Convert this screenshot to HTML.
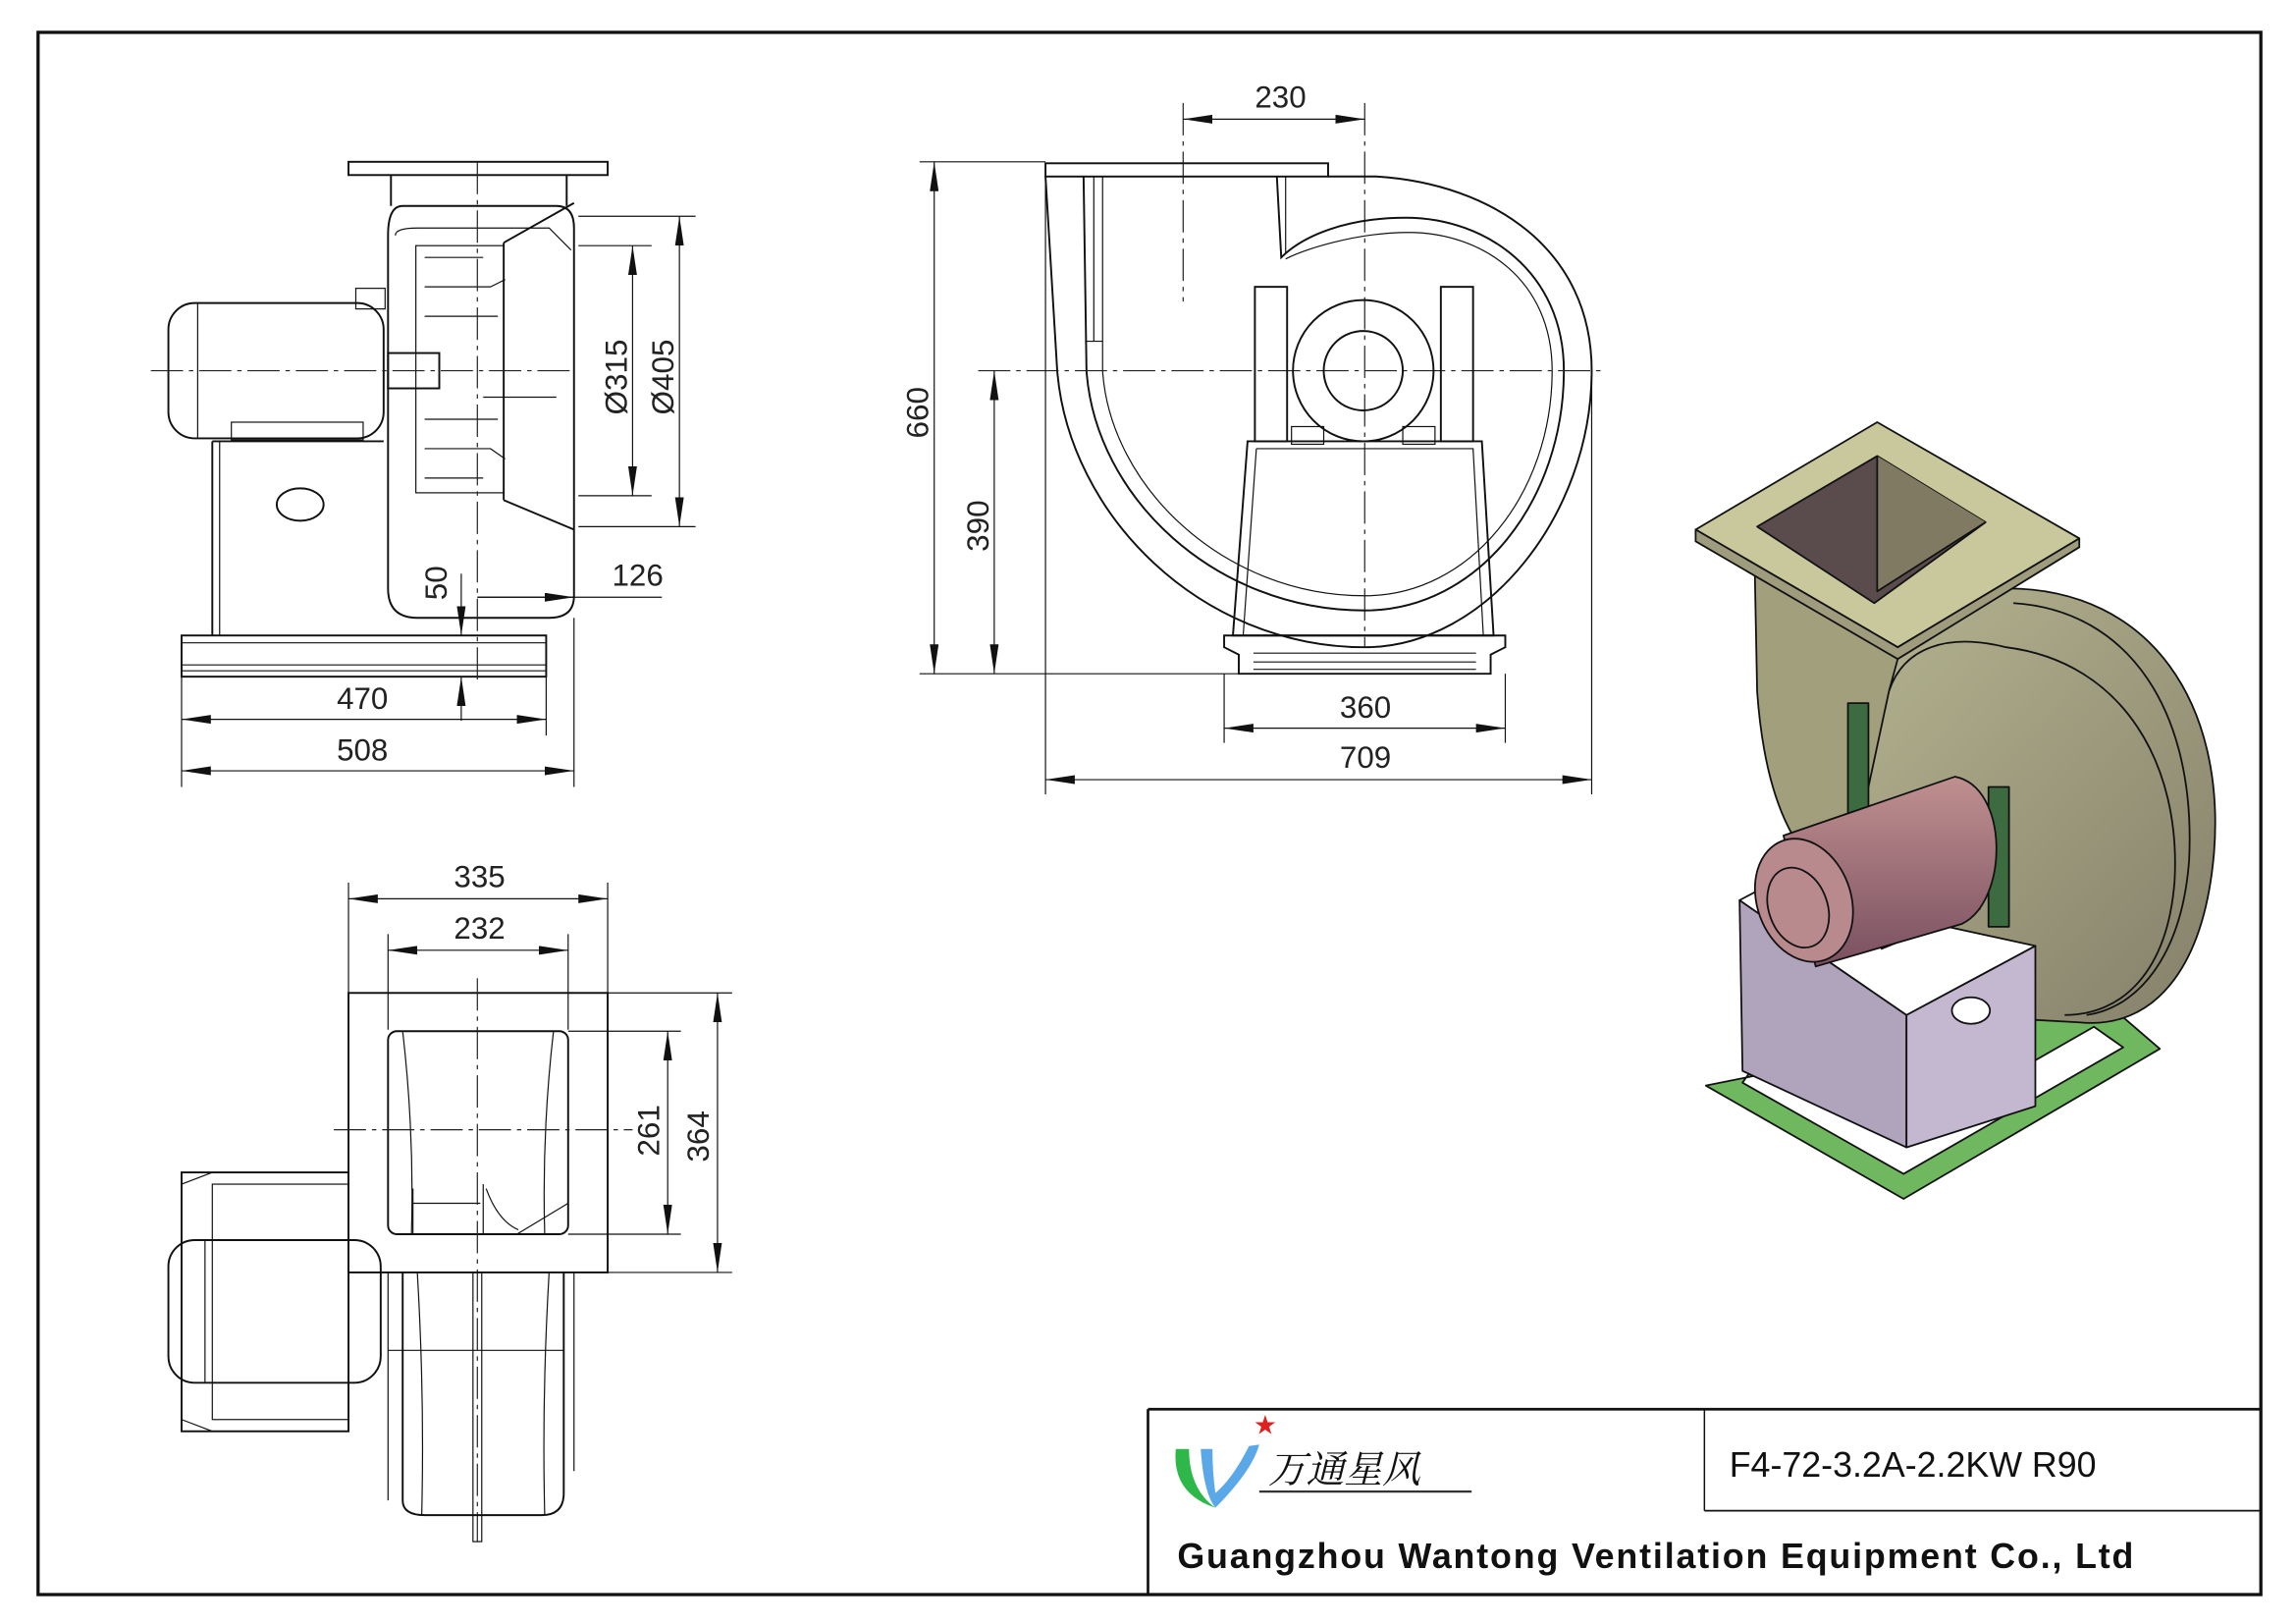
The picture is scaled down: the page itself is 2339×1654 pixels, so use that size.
<!DOCTYPE html>
<html><head><meta charset="utf-8"><style>
html,body{margin:0;padding:0;background:#fff;width:2339px;height:1654px;overflow:hidden}
svg{display:block}
.l{fill:none;stroke:#111;stroke-width:1.3}
.t{fill:none;stroke:#111;stroke-width:0.8}
.c{fill:none;stroke:#222;stroke-width:0.8;stroke-dasharray:22 4 3 4}
.d{font-family:"Liberation Sans",sans-serif;font-size:21px;fill:#222}
</style></head><body>
<svg width="2339" height="1654" viewBox="0 0 1568 1104" preserveAspectRatio="none">
<defs>
<marker id="a" viewBox="0 0 20 6" refX="20" refY="3" markerWidth="20" markerHeight="6" orient="auto-start-reverse" markerUnits="userSpaceOnUse"><path d="M0,0L20,3L0,6z" fill="#111"/></marker>
<linearGradient id="ol" x1="0" y1="0" x2="1" y2="1"><stop offset="0" stop-color="#b7b792"/><stop offset="1" stop-color="#85806a"/></linearGradient>
<linearGradient id="pk" x1="0" y1="0" x2="0" y2="1"><stop offset="0" stop-color="#c09090"/><stop offset="1" stop-color="#7a5060"/></linearGradient>
</defs>
<rect x="26" y="22" width="1518" height="1062" fill="none" stroke="#111" stroke-width="2.2"/>

<!-- SIDE VIEW -->
<g>
<rect x="238" y="110" width="177" height="9" class="l"/>
<line x1="267" y1="119" x2="267" y2="140" class="l"/><line x1="387" y1="119" x2="387" y2="140" class="l"/>
<path d="M275,140 H380 Q392,140 392,155 V405 Q392,420 375,420 H285 Q265,420 265,400 V160 Q265,140 275,140Z" class="l"/>
<path d="M270,160 Q270,155 285,155 H375 L390,170" class="t"/>
<rect x="284" y="167" width="60" height="168" class="t"/>
<path d="M290,175 H330 M290,195 H335 L345,190 M290,215 H340 M290,285 H340 M290,305 H335 L345,312 M290,325 H330" class="t"/>
<path d="M344,165 L392,138 M344,340 L392,360 M344,165 V340" class="l"/>
<line x1="330" y1="270" x2="380" y2="270" class="t"/>
<rect x="115" y="206" width="147" height="92" rx="18" class="l"/>
<line x1="135" y1="206" x2="135" y2="298" class="t"/>
<rect x="158" y="287" width="90" height="12" class="t"/>
<rect x="243" y="196" width="20" height="14" class="t"/>
<rect x="265" y="240" width="35" height="24" class="l"/>
<line x1="145" y1="300" x2="145" y2="432" class="l"/><line x1="150" y1="300" x2="150" y2="432" class="t"/>
<line x1="145" y1="300" x2="262" y2="300" class="l"/>
<ellipse cx="205" cy="343" rx="16" ry="11" class="l"/>
<rect x="124" y="432" width="249" height="28" class="l"/>
<line x1="124" y1="437" x2="373" y2="437" class="t"/><line x1="124" y1="452" x2="373" y2="452" class="t"/><line x1="124" y1="456" x2="373" y2="456" class="t"/>
<line x1="103" y1="252" x2="390" y2="252" class="c"/>
<line x1="326" y1="110" x2="326" y2="462" class="c"/>
<line x1="395" y1="147" x2="475" y2="147" class="t"/><line x1="395" y1="358" x2="475" y2="358" class="t"/>
<line x1="464" y1="147" x2="464" y2="358" class="t" marker-start="url(#a)" marker-end="url(#a)"/>
<line x1="395" y1="167" x2="445" y2="167" class="t"/><line x1="395" y1="337" x2="445" y2="337" class="t"/>
<line x1="432" y1="167" x2="432" y2="337" class="t" marker-start="url(#a)" marker-end="url(#a)"/>
<text class="d" transform="translate(428,282) rotate(-90)">Ø315</text>
<text class="d" transform="translate(460,282) rotate(-90)">Ø405</text>
<line x1="326" y1="406" x2="452" y2="406" class="t"/>
<line x1="326" y1="406" x2="392" y2="406" class="t" marker-end="url(#a)"/>
<text class="d" x="418" y="398">126</text>
<line x1="315" y1="390" x2="315" y2="432" class="t" marker-end="url(#a)"/>
<line x1="315" y1="490" x2="315" y2="460" class="t" marker-end="url(#a)"/>
<text class="d" transform="translate(305,408) rotate(-90)">50</text>
<line x1="124" y1="460" x2="124" y2="535" class="t"/><line x1="373" y1="460" x2="373" y2="500" class="t"/><line x1="392" y1="420" x2="392" y2="535" class="t"/>
<line x1="124" y1="489" x2="373" y2="489" class="t" marker-start="url(#a)" marker-end="url(#a)"/>
<text class="d" x="230" y="482">470</text>
<line x1="124" y1="524" x2="392" y2="524" class="t" marker-start="url(#a)" marker-end="url(#a)"/>
<text class="d" x="230" y="517">508</text>
</g>

<!-- FRONT VIEW -->
<g>
<line x1="808" y1="70" x2="808" y2="205" class="c"/><line x1="932" y1="70" x2="932" y2="440" class="c"/>
<line x1="808" y1="81" x2="932" y2="81" class="t" marker-start="url(#a)" marker-end="url(#a)"/>
<text class="d" x="857" y="73">230</text>
<rect x="714" y="111" width="193" height="9" class="l"/>
<path d="M714,120 L722,252 C730,350 820,440 932,440 C1015,440 1087,350 1087,252 C1087,170 1020,125 940,120 L907,120" class="l"/>
<path d="M740,120 L742,252 C748,338 830,415 932,415 C1010,415 1068,340 1068,252 C1068,185 1015,148 960,148 C920,148 890,160 875,175 L872,120" class="l"/>
<path d="M747,120 V232 M741,232 H753 M753,120 V252 C758,330 835,405 932,405 C1005,405 1060,335 1060,252 C1060,190 1012,158 962,158 C925,158 890,170 878,176" class="t"/>
<line x1="878" y1="120" x2="878" y2="172" class="t"/>
<line x1="668" y1="252" x2="1097" y2="252" class="c"/>
<rect x="857" y="195" width="22" height="105" class="l"/><rect x="984" y="195" width="22" height="105" class="l"/>
<circle cx="931" cy="252" r="48" class="l"/><circle cx="931" cy="252" r="27" class="l"/>
<rect x="882" y="290" width="22" height="12" class="t"/><rect x="958" y="290" width="22" height="12" class="t"/>
<path d="M852,300 H1012 L1020,432 H842Z" class="l"/>
<path d="M858,305 H1006 L1013,432 M858,305 L849,432" class="t"/>
<path d="M836,432 H1028 V440 L1018,445 V458 H846 V445 L836,440Z" class="l"/>
<line x1="856" y1="444" x2="1008" y2="444" class="t"/><line x1="856" y1="450" x2="1008" y2="450" class="t"/><line x1="856" y1="455" x2="1008" y2="455" class="t"/>
<line x1="628" y1="110" x2="714" y2="110" class="t"/><line x1="628" y1="458" x2="846" y2="458" class="t"/>
<line x1="638" y1="110" x2="638" y2="458" class="t" marker-start="url(#a)" marker-end="url(#a)"/>
<text class="d" transform="translate(634,298) rotate(-90)">660</text>
<line x1="679" y1="252" x2="679" y2="458" class="t" marker-start="url(#a)" marker-end="url(#a)"/>
<text class="d" transform="translate(675,375) rotate(-90)">390</text>
<line x1="836" y1="458" x2="836" y2="505" class="t"/><line x1="1028" y1="458" x2="1028" y2="505" class="t"/>
<line x1="836" y1="495" x2="1028" y2="495" class="t" marker-start="url(#a)" marker-end="url(#a)"/>
<text class="d" x="915" y="488">360</text>
<line x1="714" y1="120" x2="714" y2="540" class="t"/><line x1="1087" y1="252" x2="1087" y2="540" class="t"/>
<line x1="714" y1="530" x2="1087" y2="530" class="t" marker-start="url(#a)" marker-end="url(#a)"/>
<text class="d" x="915" y="522">709</text>
</g>

<!-- TOP VIEW -->
<g>
<line x1="238" y1="600" x2="238" y2="675" class="t"/><line x1="415" y1="600" x2="415" y2="675" class="t"/>
<line x1="238" y1="611" x2="415" y2="611" class="t" marker-start="url(#a)" marker-end="url(#a)"/>
<text class="d" x="310" y="603">335</text>
<line x1="265" y1="635" x2="265" y2="700" class="t"/><line x1="388" y1="635" x2="388" y2="700" class="t"/>
<line x1="265" y1="646" x2="388" y2="646" class="t" marker-start="url(#a)" marker-end="url(#a)"/>
<text class="d" x="310" y="638">232</text>
<rect x="238" y="675" width="177" height="190" class="l"/>
<rect x="265" y="701" width="123" height="138" rx="6" class="l"/>
<path d="M275,701 Q283,770 281,839 M378,701 Q370,770 372,839" class="t"/>
<path d="M282,808 V839 M330,805 V839 M282,818 H328 M332,808 Q340,830 354,836 M353,839 L388,818" class="t"/>
<line x1="228" y1="768" x2="432" y2="768" class="c"/>
<line x1="326" y1="665" x2="326" y2="1048" class="c"/>
<line x1="415" y1="675" x2="500" y2="675" class="t"/><line x1="415" y1="865" x2="500" y2="865" class="t"/>
<line x1="490" y1="675" x2="490" y2="865" class="t" marker-start="url(#a)" marker-end="url(#a)"/>
<text class="d" transform="translate(484,790) rotate(-90)">364</text>
<line x1="388" y1="701" x2="465" y2="701" class="t"/><line x1="388" y1="839" x2="465" y2="839" class="t"/>
<line x1="456" y1="701" x2="456" y2="839" class="t" marker-start="url(#a)" marker-end="url(#a)"/>
<text class="d" transform="translate(450,786) rotate(-90)">261</text>
<rect x="124" y="797" width="114" height="176" class="l"/>
<rect x="145" y="805" width="93" height="160" class="t"/>
<path d="M124,805 L145,797 M124,965 L145,973" class="t"/>
<rect x="115" y="843" width="145" height="97" rx="18" class="l"/>
<line x1="140" y1="843" x2="140" y2="940" class="t"/>
<path d="M275,865 V1020 Q275,1030 290,1030 H370 Q385,1030 385,1015 V865" class="l"/>
<path d="M285,865 Q290,950 288,1030 M375,865 Q370,950 372,1030 M265,865 V1020 M392,865 V1000" class="t"/>
<line x1="265" y1="918" x2="385" y2="918" class="t"/>
<rect x="323" y="865" width="6" height="183" class="t"/>
</g>

<!-- ISOMETRIC -->
<g stroke="#111" stroke-width="1.2" stroke-linejoin="round">
<path fill-rule="evenodd" d="M1165,738 L1300,815 L1475,713 L1440,683 Z M1190,736 L1300,798 L1450,712 L1430,698 L1300,772 L1200,722 Z" fill="#6fb85f"/>
<path d="M1240,590 L1235,430 L1370,400 C1470,400 1520,480 1512,580 C1505,660 1470,700 1420,695 L1330,690 Z" fill="url(#ol)"/>
<path d="M1290,470 C1300,440 1330,430 1370,440 C1450,450 1490,520 1485,600 C1480,660 1450,690 1410,690" fill="none"/>
<path d="M1375,410 C1455,415 1500,485 1495,585 C1490,650 1460,685 1425,690" fill="none"/>
<path d="M1198,368 L1200,470 C1205,540 1225,590 1262,600 L1290,470 L1296,448 Z" fill="#a29f7d"/>
<rect x="1262" y="478" width="14" height="85" fill="#3d6b40"/>
<rect x="1358" y="535" width="14" height="95" fill="#3d6b40"/>
<path d="M1188,612 L1302,690 L1302,780 L1190,728Z" fill="#b0a4bc"/>
<path d="M1302,690 L1390,643 L1390,752 L1302,780Z" fill="#c4b8d0"/>
<path d="M1188,612 L1205,603 L1390,643 L1302,690Z" fill="#fff"/>
<ellipse cx="1346" cy="687" rx="13" ry="9" fill="#fff"/>
<path d="M1280,630 L1352,605 L1352,618 L1285,645Z" fill="#a0706c"/>
<path d="M1218,568 L1335,528 C1372,535 1372,612 1340,628 L1240,657 Z" fill="url(#pk)"/>
<ellipse cx="1232" cy="612" rx="32" ry="43" transform="rotate(-20 1232 612)" fill="#b88a8e"/>
<ellipse cx="1228" cy="617" rx="20" ry="28" transform="rotate(-20 1228 617)" fill="none"/>
<path d="M1158,360 L1282,287 L1420,366 L1296,440Z" fill="#c8c89c"/>
<path d="M1158,360 V368 L1296,448 L1420,372 V366 L1296,440Z" fill="#9e9c7c"/>
<path d="M1200,358 L1282,310 L1356,355 L1280,410Z" fill="#5a4c4c"/>
<path d="M1282,310 L1282,402 L1356,355" fill="#807a62"/>
</g>

<!-- TITLE BLOCK -->
<g>
<line x1="784" y1="958" x2="1544" y2="958" stroke="#111" stroke-width="1.8"/>
<line x1="784" y1="958" x2="784" y2="1084" stroke="#111" stroke-width="1.8"/>
<line x1="1164" y1="958" x2="1164" y2="1027" stroke="#111" stroke-width="1"/>
<line x1="1164" y1="1027" x2="1544" y2="1027" stroke="#111" stroke-width="1.2"/>
<path d="M803,985 Q800,1015 830,1025 Q812,1012 812,985Z" fill="#2eb84a"/>
<path d="M820,985 Q822,1015 830,1025 Q855,1000 860,982 L853,983 Q842,1005 830,1015 Q828,1000 828,985Z" fill="#5aa8e8"/>
<text x="856" y="975" font-size="18" fill="#e02020" font-family="DejaVu Sans,sans-serif">★</text>
<text x="866" y="1008" font-size="26" font-style="italic" font-family="'Noto Serif CJK SC','Noto Sans CJK SC',sans-serif" fill="#111">万通星风</text>
<line x1="860" y1="1014" x2="1005" y2="1014" stroke="#333" stroke-width="1.5"/>
<text x="1181" y="1004" font-size="24" font-family="'Liberation Sans',sans-serif" fill="#111">F4-72-3.2A-2.2KW  R90</text>
<text x="804" y="1066" font-size="24" font-weight="bold" font-family="'Liberation Sans',sans-serif" fill="#111" textLength="653">Guangzhou Wantong Ventilation Equipment Co., Ltd</text>
</g>
</svg>
</body></html>
